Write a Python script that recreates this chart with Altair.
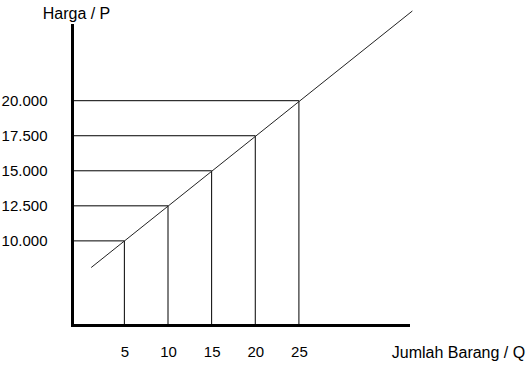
import altair as alt
import pandas as pd

# Data
quantity = [5, 10, 15, 20, 25]
price = [10000, 12500, 15000, 17500, 20000]
supply_q = [1.2, 38.0]
supply_p = [8100, 26400]

x_domain = [-1, 37.5]
y_domain = [4000, 25400]

points = pd.DataFrame({"Q": quantity, "P": price})
supply = pd.DataFrame({"Q": supply_q, "P": supply_p})

FONT = "Liberation Sans"
W, H = 336, 300

xscale = alt.Scale(domain=x_domain, nice=False, zero=False)
yscale = alt.Scale(domain=y_domain, nice=False, zero=False)

xaxis = alt.Axis(
    values=quantity,
    title="Jumlah Barang / Q",
    titleX=386, titleY=27, titleAlign="center", titleBaseline="middle",
    titleFont=FONT, titleFontSize=16, titleFontWeight="normal", titleColor="black",
    labelFont=FONT, labelFontSize=15, labelColor="black", labelPadding=19,
    labelBaseline="top",
    ticks=False, grid=False,
    domainColor="black", domainWidth=3, domainCap="square",
)
yaxis = alt.Axis(
    values=price,
    labelExpr="replace(format(datum.value, ','), ',', '.')",
    title="Harga / P",
    titleAngle=0, titleX=4, titleY=-12, titleAlign="center", titleBaseline="middle",
    titleFont=FONT, titleFontSize=16, titleFontWeight="normal", titleColor="black",
    labelFont=FONT, labelFontSize=15, labelColor="black", labelPadding=25,
    labelBaseline="middle",
    ticks=False, grid=False,
    domainColor="black", domainWidth=3, domainCap="square",
)

base = alt.Chart(points).transform_calculate(
    Q0=str(x_domain[0]), P0=str(y_domain[0])
)

vertical = base.mark_rule(color="black", strokeWidth=1).encode(
    x=alt.X("Q:Q", scale=xscale, axis=xaxis),
    y=alt.Y("P:Q", scale=yscale, axis=yaxis),
    y2=alt.Y2("P0:Q"),
)

horizontal = base.mark_rule(color="black", strokeWidth=1).encode(
    x=alt.X("Q0:Q", scale=xscale),
    x2=alt.X2("Q:Q"),
    y=alt.Y("P:Q", scale=yscale),
)

supply_line = alt.Chart(supply).mark_line(color="#222222", strokeWidth=1, clip=False).encode(
    x=alt.X("Q:Q", scale=xscale),
    y=alt.Y("P:Q", scale=yscale),
)

chart = alt.layer(horizontal, vertical, supply_line).properties(
    width=W, height=H,
    padding={"left": 72, "top": 25, "right": 123, "bottom": 42},
    autosize=alt.AutoSizeParams(type="none"),
    background="white",
).configure_view(stroke=None)

chart.save("out.html", embed_options={"renderer": "svg", "actions": False})
